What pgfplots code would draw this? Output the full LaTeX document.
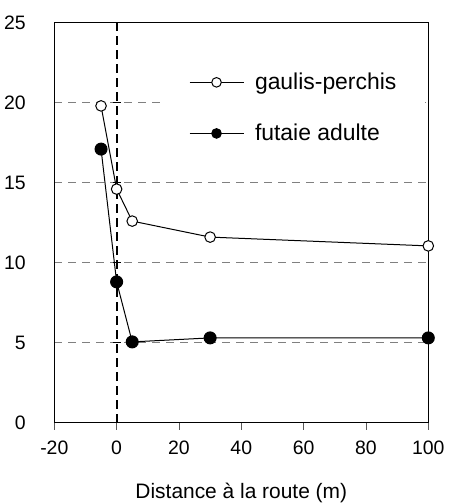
\documentclass[border=0pt]{standalone}
\usepackage{pgfplots}
\pgfplotsset{compat=1.18}
\usepackage{fontspec}
\setmainfont{Liberation Sans}
\begin{document}
\begin{tikzpicture}
\useasboundingbox (-54.3bp,-81.3bp) rectangle (396.7bp,422.7bp);
\begin{axis}[
  scale only axis, width=374bp, height=400bp,
  xmin=-20, xmax=100, ymin=0, ymax=25,
  xtick={-20,0,20,40,60,80,100}, ytick={0,5,10,15,20,25},
  tick pos=left,
  ytick style={draw=none},
  xtick style={gray!70!black, line width=0.8bp},
  tick align=outside, major tick length=7bp,
  ymajorgrids,
  major grid style={gray, line width=0.6bp, dash pattern=on 8bp off 6bp},
  axis line style={black, line width=1bp},
  /pgf/number format/assume math mode=true,
  ticklabel style={font=\fontsize{19.5}{22}\selectfont},
  yticklabel style={xshift=-18bp},
  xticklabel style={yshift=-8bp},
  xlabel={Distance à la route (m)},
  xlabel style={at={(axis description cs:0.5,0)}, anchor=base, yshift=-75.3bp,
    font=\fontsize{21}{24}\selectfont},
  clip=false,
  legend style={draw=none, fill=white, at={(axis cs:14.5,22.6)}, anchor=north west,
    inner xsep=27bp, inner ysep=10bp, font=\fontsize{23}{27}\selectfont,
    row sep=29bp, column sep=9bp, cells={anchor=west}},
  legend image code/.code={\draw[mark repeat=2, mark phase=2, #1, mark size=4.8bp]
    plot coordinates {(0bp,0bp) (27bp,0bp) (54bp,0bp)};},
]
% road position (x = 0)
\addplot[forget plot, black, line width=1.8bp, dash pattern=on 9bp off 5bp]
  coordinates {(0,0) (0,25)};
\draw[black, line width=1bp] (axis cs:-1.3,0) -- (axis cs:1.3,0);
\draw[black, line width=1bp] (axis cs:-1.3,5) -- (axis cs:1.3,5);
\draw[black, line width=1bp] (axis cs:-1.3,10) -- (axis cs:1.3,10);
\draw[black, line width=1bp] (axis cs:-1.3,15) -- (axis cs:1.3,15);
\draw[black, line width=1bp] (axis cs:-1.3,20) -- (axis cs:1.3,20);
\draw[black, line width=1bp] (axis cs:-1.3,25) -- (axis cs:1.3,25);

\addplot[black, line width=1bp, mark=*, mark size=5.3bp,
  mark options={fill=white, line width=1bp}] coordinates {
  (-5,19.8) (0,14.6) (5,12.6) (30,11.6) (100,11.05)
};
\addlegendentry{gaulis-perchis}

\addplot[black, line width=1bp, mark=*, mark size=6bp,
  mark options={fill=black}] coordinates {
  (-5,17.1) (0,8.8) (5,5.05) (30,5.3) (100,5.3)
};
\addlegendentry{futaie adulte}
\end{axis}
\end{tikzpicture}
\end{document}
